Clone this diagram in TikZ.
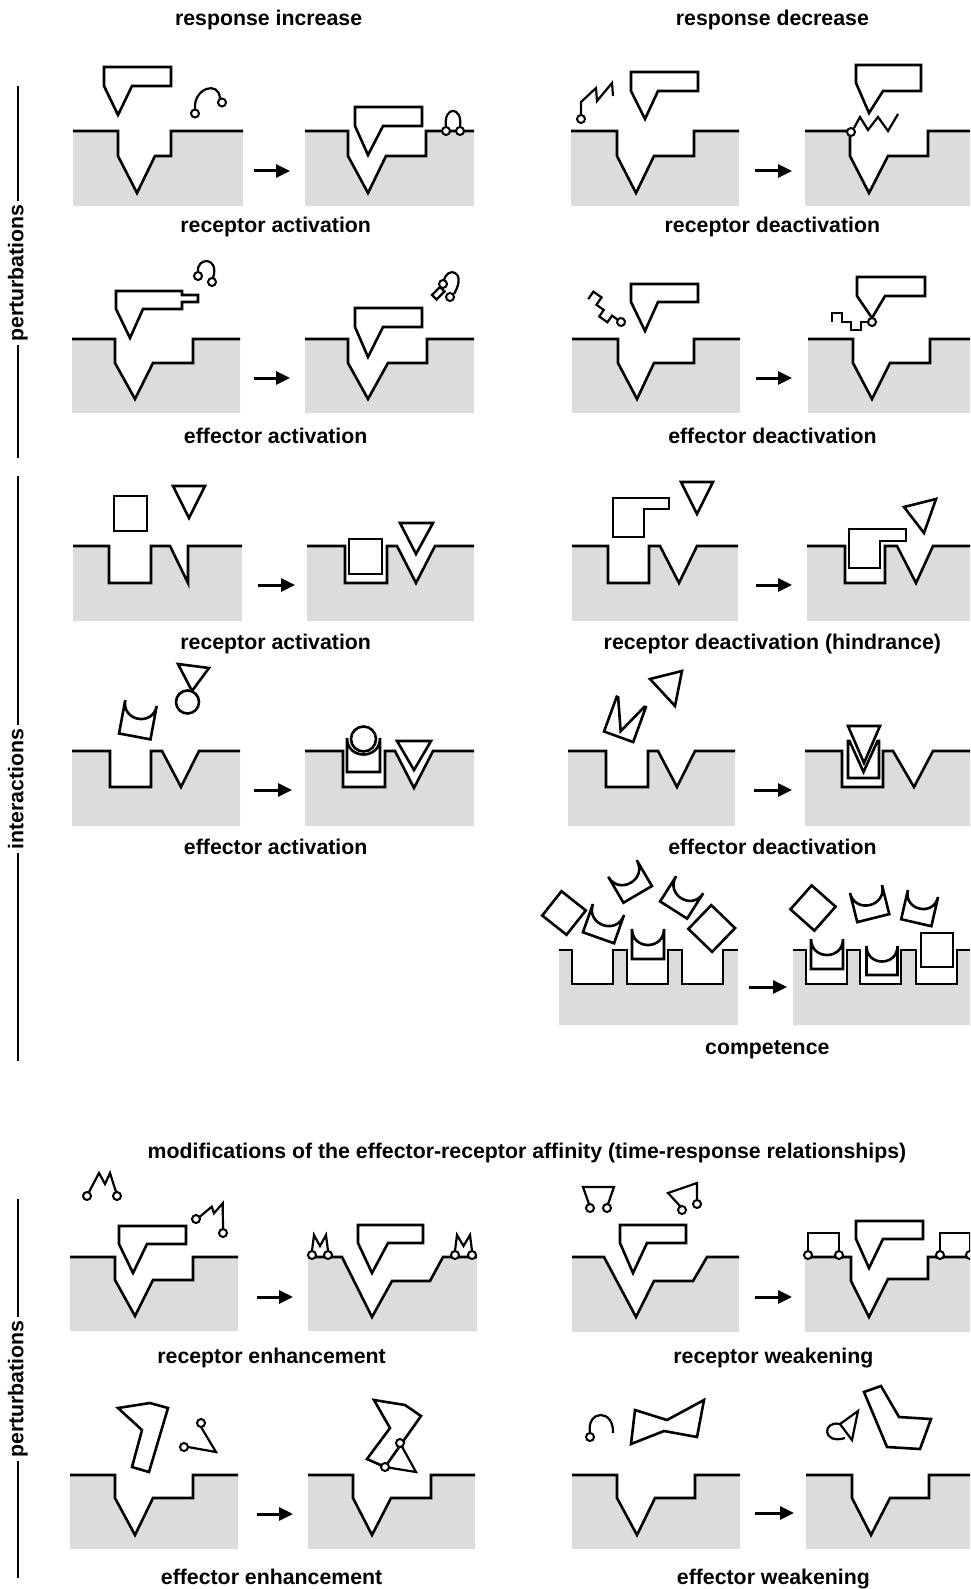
\documentclass[tikz,border=0pt]{standalone}
\usepackage{fontspec}
\setmainfont{Liberation Sans}
\usetikzlibrary{arrows.meta}
\definecolor{bedgray}{RGB}{220,220,220}

% gray bed with its surface line: #1 surface polyline, #2/#3 lower corners
\newcommand{\bedpath}[3]{\fill[bed] #1 -- (#2) -- (#3) -- cycle; \draw[edge] #1;}
% cup: block with a concave top; #1,#2 centre of the top chord, #3 rotation, #4 width, #5 height
\newcommand{\cupat}[5]{\begin{scope}[shift={(#1,#2)},rotate=#3]
  \draw[part] (-#4/2,0) -- (-#4/2,#5) -- (#4/2,#5) -- (#4/2,0)
    .. controls (#4/2,#4*0.6667) and (-#4/2,#4*0.6667) .. (-#4/2,0) -- cycle;
  \end{scope}}
% square turned on its centre
\newcommand{\diamondat}[4]{\draw[part,shift={(#1,#2)},rotate=#3]
  (-#4/2,-#4/2) -- (#4/2,-#4/2) -- (#4/2,#4/2) -- (-#4/2,#4/2) -- cycle;}
% block with a V notch; #1,#2 top-left corner, #3 rotation
\newcommand{\crownat}[3]{\draw[part,shift={(#1,#2)},rotate=#3]
  (0,0) -- (1.5,0) -- (15.5,31) -- (29.5,0) -- (31,0) -- (31,37) -- (0,37) -- cycle;}
% square-wave chain ending in a ring; #1,#2 ring centre, #3 rotation
\newcommand{\chainat}[3]{\begin{scope}[shift={(#1,#2)},rotate=#3]
  \draw[mol] (-4,0) -- (-11,0) -- (-11,8) -- (-21,8) -- (-21,0) -- (-30,0) -- (-30,-9) -- (-40,-9) -- (-40,0);
  \draw[atom] (0,0) circle[radius=4];
  \end{scope}}

\begin{document}
\begin{tikzpicture}[x=1pt,y=-1pt,
  edge/.style={line width=2.6pt, line join=miter},
  bed/.style={fill=bedgray},
  part/.style={line width=2.6pt, line join=miter, fill=white},
  mol/.style={line width=2.2pt, line join=miter},
  atom/.style={line width=2pt, fill=white},
  arr/.style={line width=3pt, -{Triangle[length=14pt,width=13pt]}},
  lbl/.style={font=\fontsize{21.3}{25}\selectfont\bfseries, text height=15.3pt, text depth=4.5pt, inner sep=0pt},
  side/.style={lbl, rotate=90, inner sep=3pt},
  rule/.style={line width=1.6pt}]
\useasboundingbox (0,0) rectangle (970,1589);
\clip (0,0) rectangle (970,1589);

% ---------- headings ----------
\node[lbl] (hinc) at (268.6,20.2) {response increase};
\node[lbl] (hdec) at (772.4,20.2) {response decrease};
\node[lbl] (hmod) at (527,1153.5) {modifications of the effector-receptor affinity (time-response relationships)};

% ---------- side rules ----------
\node[side] (s1) at (18,273) {perturbations};
\coordinate (s1a) at (18,86); \coordinate (s1b) at (18,458);
\draw[rule] (s1a) -- (s1.east); \draw[rule] (s1.west) -- (s1b);
\node[side] (s2) at (18,789) {interactions};
\coordinate (s2a) at (18,476); \coordinate (s2b) at (18,1061);
\draw[rule] (s2a) -- (s2.east); \draw[rule] (s2.west) -- (s2b);
\node[side] (s3) at (18,1389) {perturbations};
\coordinate (s3a) at (18,1199); \coordinate (s3b) at (18,1578);
\draw[rule] (s3a) -- (s3.east); \draw[rule] (s3.west) -- (s3b);

% ---------- receptor activation (perturbation) ----------
\bedpath{(73,131)--(118,131)--(118,156)--(137,193)--(155,156)--(171,156)--(171,131)--(243,131)}{243,206}{73,206}
\draw[part] (104,67)--(171,67)--(171,86)--(132,86)--(118,115)--(104,86)--cycle;
\draw[mol] (195,109.5) .. controls (193,88) and (219,80) .. (220,98.5);
\draw[atom] (195,113.5) circle[radius=4]; \draw[atom] (222,102.5) circle[radius=4];
\coordinate (a1) at (254,171); \coordinate (b1) at (290,171); \draw[arr] (a1) -- (b1);
\bedpath{(305,131)--(348,131)--(348,156)--(368,193)--(386,156)--(426,156)--(426,131)--(474,131)}{474,206}{305,206}
\draw[part] (355,107)--(422,107)--(422,126)--(383,126)--(368,155)--(355,126)--cycle;
\draw[mol] (446,127) .. controls (443,105.5) and (463,105.5) .. (460,127);
\draw[atom] (446,131) circle[radius=4]; \draw[atom] (460,131) circle[radius=4];
\node[lbl] (l1) at (275.7,227) {receptor activation};

% ---------- receptor deactivation (perturbation) ----------
\bedpath{(571,131)--(617,131)--(617,156)--(636,193)--(654,156)--(694,156)--(694,131)--(739,131)}{739,206}{571,206}
\draw[part] (631,72)--(698,72)--(698,91)--(658,91)--(645,119)--(631,91)--cycle;
\draw[mol] (581,115)--(581,102)--(596,88)--(597,101)--(612,83)--(613,96);
\draw[atom] (581,119) circle[radius=4];
\coordinate (a2) at (755,171); \coordinate (b2) at (792,171); \draw[arr] (a2) -- (b2);
\bedpath{(805,131)--(850,131)--(850,156)--(869,193)--(888,156)--(928,156)--(928,131)--(970,131)}{970,206}{805,206}
\draw[part] (856,65)--(921,65)--(921,91)--(883,91)--(869,113)--(856,83)--cycle;
\draw[mol] (854,128)--(860,117)--(868,130)--(878,117)--(888,131)--(898,114);
\draw[atom] (851,132) circle[radius=4];
\node[lbl] (l2) at (772.4,227) {receptor deactivation};

% ---------- effector activation (perturbation) ----------
\bedpath{(72,339)--(115,339)--(115,363)--(135,399)--(153,363)--(193,363)--(193,339)--(240,339)}{240,413}{72,413}
\draw[part] (116,291)--(182,291)--(182,295)--(198,295)--(198,302)--(182,302)--(182,309)--(143,309)--(130,338)--(116,309)--cycle;
\draw[mol] (198,272) .. controls (196,257) and (220,256) .. (213,278);
\draw[atom] (198,276) circle[radius=4]; \draw[atom] (212,282) circle[radius=4];
\coordinate (a3) at (254,378); \coordinate (b3) at (290,378); \draw[arr] (a3) -- (b3);
\bedpath{(305,339)--(348,339)--(348,363)--(368,399)--(388,363)--(427,363)--(427,339)--(474,339)}{474,413}{305,413}
\draw[part] (355,308)--(422,308)--(422,327)--(383,327)--(368,357)--(355,327)--cycle;
\draw[mol] (444,281) .. controls (446,266) and (468,270) .. (454,294);
\draw[mol,fill=white] (432,295)--(440,287)--(444.5,291.5)--(436.5,299.5)--cycle;
\draw[atom] (443,284) circle[radius=4]; \draw[atom] (450,297) circle[radius=4];
\node[lbl] (l3) at (275.7,437.8) {effector activation};

% ---------- effector deactivation (perturbation) ----------
\bedpath{(572,339)--(618,339)--(618,363)--(637,399)--(654,363)--(694,363)--(694,339)--(740,339)}{740,413}{572,413}
\draw[part] (631,284)--(698,284)--(698,302)--(658,302)--(645,331)--(631,302)--cycle;
\chainat{621}{322}{-35}
\coordinate (a4) at (756,378); \coordinate (b4) at (792,378); \draw[arr] (a4) -- (b4);
\bedpath{(808,339)--(853,339)--(853,363)--(872,399)--(890,363)--(930,363)--(930,339)--(970,339)}{970,413}{808,413}
\draw[part] (857,277)--(925,277)--(925,296)--(885,296)--(872,318)--(857,296)--cycle;
\chainat{872}{322}{0}
\node[lbl] (l4) at (772.4,437.8) {effector deactivation};

% ---------- receptor activation (interaction) ----------
\bedpath{(73,546)--(109,546)--(109,583)--(151,583)--(151,546)--(170,546)--(188,583)--(188,546)--(242,546)}{242,621}{73,621}
\draw[part] (114,496) rectangle (147,531);
\draw[part] (173,486)--(205,486)--(189,518)--cycle;
\coordinate (a5) at (258,585); \coordinate (b5) at (295,585); \draw[arr] (a5) -- (b5);
\bedpath{(307,546)--(345,546)--(345,583)--(387,583)--(387,546)--(397,546)--(416,583)--(435,546)--(474,546)}{474,621}{307,621}
\draw[part] (349,539) rectangle (382,574);
\draw[part] (400,523)--(433,523)--(416,554)--cycle;
\node[lbl] (l5) at (275.7,643.6) {receptor activation};

% ---------- receptor deactivation (hindrance) ----------
\bedpath{(572,546)--(608,546)--(608,583)--(649,583)--(649,546)--(660,546)--(679,583)--(697,546)--(738,546)}{738,621}{572,621}
\draw[part] (613,498)--(669,498)--(669,509)--(644,509)--(644,537)--(613,537)--cycle;
\draw[part] (681,482)--(713,482)--(697,514)--cycle;
\coordinate (a6) at (756,585); \coordinate (b6) at (792,585); \draw[arr] (a6) -- (b6);
\bedpath{(807,546)--(845,546)--(845,583)--(885,583)--(885,546)--(897,546)--(916,583)--(933,546)--(970,546)}{970,621}{807,621}
\draw[part] (849,529)--(906,529)--(906,541)--(880,541)--(880,568)--(849,568)--cycle;
\draw[part] (904,507)--(936,499)--(924,533)--cycle;
\node[lbl] (l6) at (772.4,643.6) {receptor deactivation (hindrance)};

% ---------- effector activation (interaction) ----------
\bedpath{(72,751)--(110,751)--(110,787)--(151,787)--(151,751)--(162,751)--(181,787)--(199,751)--(240,751)}{240,826}{72,826}
\cupat{141}{703}{-10.6}{32}{34}
\draw[part] (178,664)--(209,668)--(192,691)--cycle;
\draw[part] (187.5,702) circle[radius=11.5];
\coordinate (a7) at (254,790); \coordinate (b7) at (292,790); \draw[arr] (a7) -- (b7);
\bedpath{(305,751)--(343,751)--(343,787)--(385,787)--(385,751)--(395,751)--(414,788)--(433,751)--(474,751)}{474,826}{305,826}
\cupat{363.5}{738}{0}{33}{34}
\draw[part] (363.5,739) circle[radius=12.5];
\draw[part] (397,741)--(431,741)--(414,770)--cycle;
\node[lbl] (l7) at (275.7,849.4) {effector activation};

% ---------- effector deactivation (interaction) ----------
\bedpath{(568,751)--(606,751)--(606,787)--(648,787)--(648,751)--(658,751)--(677,787)--(695,751)--(735,751)}{735,826}{568,826}
\crownat{616.7}{696.7}{-20}
\draw[part] (650,679)--(682,671)--(675,706)--cycle;
\coordinate (a8) at (754,790); \coordinate (b8) at (792,790); \draw[arr] (a8) -- (b8);
\bedpath{(805,751)--(842,751)--(842,787)--(883,787)--(883,751)--(893,751)--(914,787)--(933,751)--(970,751)}{970,826}{805,826}
\crownat{848}{741}{0}
\draw[part] (848,726)--(880,726)--(864,763)--cycle;
\node[lbl] (l8) at (772.4,849.4) {effector deactivation};

% ---------- competence ----------
\bedpath{(559,950)--(572,950)--(572,984)--(613,984)--(613,950)--(627,950)--(627,984)--(668,984)--(668,950)--(682,950)--(682,984)--(723,984)--(723,950)--(738,950)}{738,1025}{559,1025}
\cupat{648}{929}{0}{32}{30}
\diamondat{564}{913}{51.6}{31}
\cupat{608.5}{909.5}{-19.5}{33}{30}
\cupat{622.5}{868.5}{30.4}{33}{30}
\cupat{689.7}{884.7}{-32.4}{32}{30}
\diamondat{711.7}{928.5}{46}{33}
\coordinate (a9) at (749,987); \coordinate (b9) at (787,987); \draw[arr] (a9) -- (b9);
\bedpath{(793,950)--(806,950)--(806,984)--(847,984)--(847,950)--(860,950)--(860,984)--(901,984)--(901,950)--(916,950)--(916,984)--(957,984)--(957,950)--(970,950)}{970,1025}{793,1025}
\cupat{827}{939}{0}{32}{30}
\cupat{882}{946}{0}{31}{29}
\draw[part] (921,933) rectangle (953,967);
\diamondat{813}{908}{48.5}{32}
\cupat{866}{889}{14}{33}{30}
\cupat{923}{893.5}{-13}{31}{30}
\node[lbl] (l9) at (767.3,1049) {competence};

% ---------- receptor enhancement ----------
\bedpath{(70,1257)--(115,1257)--(115,1280)--(135,1316)--(153,1280)--(193,1280)--(193,1257)--(238,1257)}{238,1331}{70,1331}
\draw[part] (119,1226)--(186,1226)--(186,1244)--(147,1244)--(133,1273)--(119,1244)--cycle;
\draw[mol] (89,1192)--(99,1173)--(105,1184)--(110,1173)--(116,1192);
\draw[atom] (87,1196) circle[radius=4]; \draw[atom] (117,1196) circle[radius=4];
\draw[mol] (199.5,1217)--(211.7,1206.7)--(214,1213.3)--(222.7,1203.3)--(223,1229);
\draw[atom] (196,1219) circle[radius=4]; \draw[atom] (223,1233) circle[radius=4];
\coordinate (a10) at (257,1297); \coordinate (b10) at (293,1297); \draw[arr] (a10) -- (b10);
\bedpath{(308,1257)--(342,1257)--(372,1317)--(392,1281)--(430,1281)--(443,1257)--(477,1257)}{477,1331}{308,1331}
\draw[part] (358,1225)--(423,1225)--(423,1243)--(388,1243)--(372,1273)--(358,1243)--cycle;
\draw[mol] (312,1251)--(314,1235)--(320,1246)--(326,1235)--(328,1251);
\draw[atom] (312,1255) circle[radius=4]; \draw[atom] (328,1255) circle[radius=4];
\draw[mol] (455,1251)--(457,1235)--(463.5,1246)--(470,1235)--(472,1251);
\draw[atom] (455,1255) circle[radius=4]; \draw[atom] (472,1255) circle[radius=4];
\node[lbl] (l10) at (271.6,1358.2) {receptor enhancement};

% ---------- receptor weakening ----------
\bedpath{(572,1257)--(604,1257)--(636,1317)--(654,1281)--(693,1281)--(707,1257)--(739,1257)}{739,1332}{572,1332}
\draw[part] (620,1225)--(686,1225)--(686,1243)--(647,1243)--(633,1273)--(620,1243)--cycle;
\draw[mol] (589,1204)--(583,1187)--(614,1187)--(608,1204);
\draw[atom] (590,1208) circle[radius=4]; \draw[atom] (607,1208) circle[radius=4];
\draw[mol] (680,1206)--(668,1193)--(697,1183)--(697,1200);
\draw[atom] (682,1210) circle[radius=4]; \draw[atom] (697,1204) circle[radius=4];
\coordinate (a11) at (755,1297); \coordinate (b11) at (792,1297); \draw[arr] (a11) -- (b11);
\bedpath{(805,1257)--(851,1257)--(851,1281)--(869,1317)--(888,1279)--(928,1279)--(928,1257)--(970,1257)}{970,1332}{805,1332}
\draw[mol] (808,1251)--(808,1233)--(839,1233)--(839,1251);
\draw[atom] (808,1255) circle[radius=4]; \draw[atom] (839,1255) circle[radius=4];
\draw[mol] (940,1251)--(940,1233)--(970,1233)--(970,1251);
\draw[atom] (940,1255) circle[radius=4]; \draw[atom] (970,1255) circle[radius=4];
\draw[part] (856,1221)--(923,1221)--(923,1239)--(883,1239)--(869,1268)--(856,1239)--cycle;
\node[lbl] (l11) at (773.4,1358.2) {receptor weakening};

% ---------- effector enhancement ----------
\bedpath{(70,1475)--(115,1475)--(115,1498)--(135,1535)--(153,1498)--(193,1498)--(193,1475)--(238,1475)}{238,1549}{70,1549}
\draw[part] (118,1408)--(150,1403)--(168,1408)--(149,1472)--(132,1467)--(142,1430)--cycle;
\draw[mol] (201,1427)--(216,1452)--(188,1447);
\draw[atom] (201,1423) circle[radius=4]; \draw[atom] (184,1447) circle[radius=4];
\coordinate (a12) at (257,1514); \coordinate (b12) at (293,1514); \draw[arr] (a12) -- (b12);
\bedpath{(308,1475)--(353,1475)--(353,1498)--(372,1535)--(391,1498)--(431,1498)--(431,1475)--(475,1475)}{475,1549}{308,1549}
\draw[part] (374,1400)--(405,1405)--(421,1416)--(385,1467)--(367,1459)--(390,1428)--cycle;
\draw[mol] (400,1443)--(416,1472)--(385,1467);
\draw[atom] (400,1443) circle[radius=4]; \draw[atom] (385,1467) circle[radius=4];
\node[lbl] (l12) at (271.6,1579.2) {effector enhancement};

% ---------- effector weakening ----------
\bedpath{(572,1475)--(617,1475)--(617,1498)--(637,1535)--(655,1498)--(695,1498)--(695,1475)--(740,1475)}{740,1549}{572,1549}
\draw[mol] (590,1433) .. controls (586,1410) and (614,1408) .. (613,1433);
\draw[atom] (590,1437) circle[radius=4];
\draw[part] (635,1410)--(667,1420)--(704,1400)--(697,1437)--(664,1431)--(631,1444)--cycle;
\coordinate (a13) at (755,1513); \coordinate (b13) at (794,1513); \draw[arr] (a13) -- (b13);
\bedpath{(806,1475)--(852,1475)--(852,1498)--(871,1535)--(890,1498)--(929,1498)--(929,1475)--(970,1475)}{970,1549}{806,1549}
\draw[part] (864,1392)--(881,1386)--(899,1417)--(931,1419)--(920,1449)--(887,1447)--cycle;
\draw[mol] (840,1424)--(858,1411)--(852,1440)--cycle;
\draw[mol] (840,1424) .. controls (822,1420) and (822,1445) .. (845,1438);
\node[lbl] (l13) at (773.4,1579.2) {effector weakening};
\end{tikzpicture}
\end{document}
